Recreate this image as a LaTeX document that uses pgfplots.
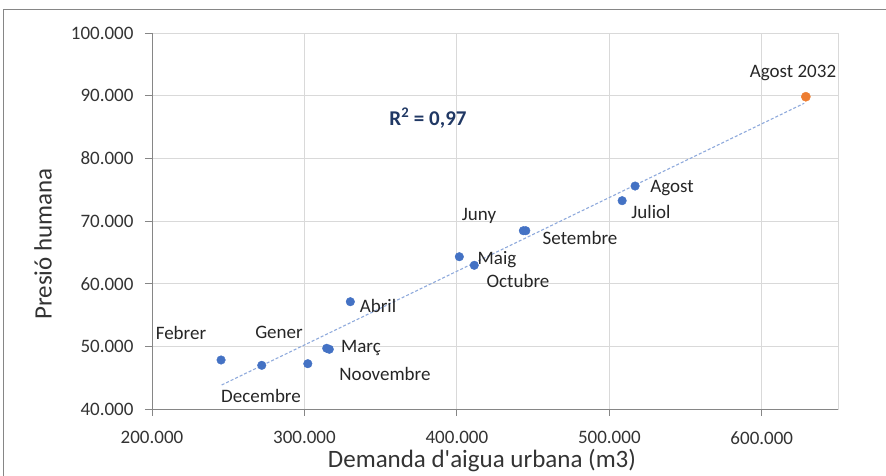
\documentclass[border=0pt]{standalone}
\usepackage{fontspec}
\setmainfont{Carlito}
\usepackage{pgfplots}
\pgfplotsset{compat=1.18}
\definecolor{gridc}{HTML}{D9D9D9}
\definecolor{axc}{HTML}{868686}
\definecolor{ptblue}{HTML}{4472C4}
\definecolor{ptorange}{HTML}{ED7D31}
\definecolor{trendc}{HTML}{8FAADC}
\definecolor{txt}{HTML}{262626}
\definecolor{tick}{HTML}{333333}
\definecolor{rtxt}{HTML}{203864}
\begin{document}
\begin{tikzpicture}[x=1pt,y=1pt]
\useasboundingbox (-152,-67) rectangle (734,409);
\draw[color=axc, line width=1pt] (-148,-80) -- (-148,399) -- (750,399);
\begin{axis}[at={(0,0)}, anchor=south west, scale only axis,
  width=686pt, height=376pt,
  xmin=200000, xmax=650000, ymin=40000, ymax=100000,
  xtick={200000,300000,400000,500000,600000},
  ytick={40000,50000,60000,70000,80000,90000,100000},
  grid=major, grid style={gridc, line width=0.9pt},
  axis line style={gridc, line width=0.9pt},
  xtick pos=bottom, ytick pos=left, tick align=outside,
  major tick length=7pt, tick style={axc, line width=0.9pt},
  scaled ticks=false,
  /pgf/number format/fixed, /pgf/number format/precision=0,
  /pgf/number format/1000 sep={.},
  /pgf/number format/assume math mode=true,
  ticklabel style={font=\fontsize{19}{22}\selectfont, text=tick},
  xticklabel style={yshift=-12pt},
  yticklabel style={xshift=-8pt},
  clip=false]
\addplot[trendc, line width=1.1pt, dash pattern=on 3pt off 2pt] coordinates {(245700,43830) (627800,88780)};
\addplot[only marks, mark=*, mark size=4.3pt, ptblue, mark options={fill=ptblue, draw=ptblue}] coordinates {
(245300,47820) (272000,46970) (302200,47230) (314600,49690) (316300,49530)
(330100,57120) (401600,64300) (411400,62930) (443600,68450) (445200,68450)
(508400,73240) (516900,75580)};
\addplot[only marks, mark=*, mark size=4.6pt, ptorange, mark options={fill=ptorange, draw=ptorange}] coordinates {(628900,89830)};
\draw[axc, line width=0.9pt] (rel axis cs:0,1) -- (rel axis cs:0,0) -- (rel axis cs:1,0);
\end{axis}
\tikzset{lab/.style={font=\fontsize{19}{22}\selectfont, text=txt, inner sep=0pt}}
\node[lab] at (29,76) {Febrer};
\node[lab] at (127,77) {Gener};
\node[lab] at (209,61) {Març};
\node[lab] at (233,35) {Noovembre};
\node[lab] at (109,13) {Decembre};
\node[lab] at (226,103) {Abril};
\node[lab] at (327,193) {Juny};
\node[lab] at (345,149) {Maig};
\node[lab] at (366,128) {Octubre};
\node[lab] at (428,171) {Setembre};
\node[lab] at (499,197) {Juliol};
\node[lab] at (520,221) {Agost};
\node[lab] at (641,336) {Agost 2032};
\node[font=\fontsize{21}{24}\selectfont\bfseries, text=rtxt, inner sep=0pt] at (276,291) {R\textsuperscript{2} = 0,97};
\node[font=\fontsize{25}{28}\selectfont, text=tick, inner sep=0pt] at (330,-52) {Demanda d\textquotesingle aigua urbana (m3)};
\node[font=\fontsize{25}{28}\selectfont, text=tick, inner sep=0pt, rotate=90] at (-109,165) {Presió humana};
\end{tikzpicture}
\end{document}
